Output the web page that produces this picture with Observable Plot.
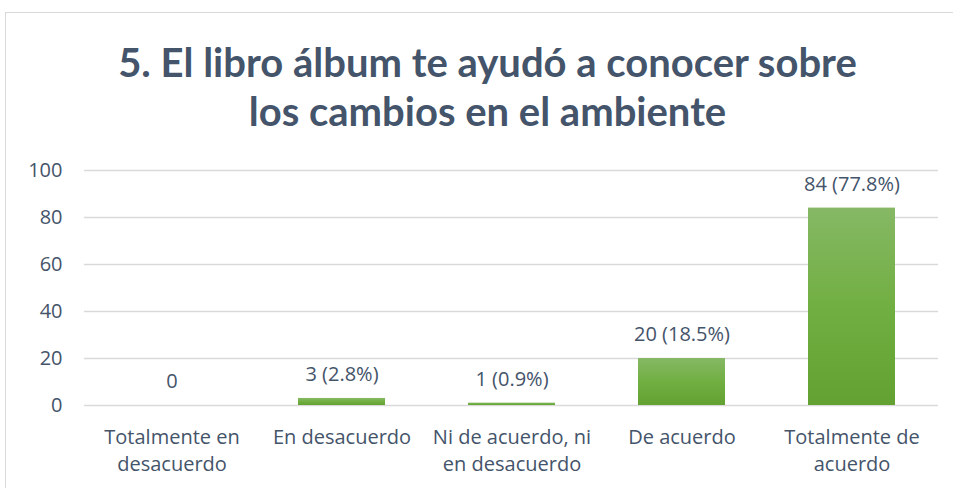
<!DOCTYPE html>
<html>
<head>
<meta charset="utf-8">
<script src="https://cdn.jsdelivr.net/npm/d3@7"></script>
<script src="https://cdn.jsdelivr.net/npm/@observablehq/plot@0.6"></script>
<style>
  body { margin: 0; background: #fff; width: 953px; height: 488px; overflow: hidden; position: relative; font-family: "Open Sans", sans-serif; }
  #frame { position: absolute; left: 5px; top: 12px; width: 980px; height: 500px; border: 1px solid #D9D9D9; box-sizing: border-box; }
  #title { position: absolute; left: 0; top: 38px; width: 975px; text-align: center; font-family: Lato, sans-serif; font-weight: bold; font-size: 40px; line-height: 49px; color: #44546A; }
  #chart { position: absolute; left: 0; top: 150px; }
</style>
</head>
<body>
<div id="frame"></div>
<div id="title">5. El libro álbum te ayudó a conocer sobre<br>los cambios en el ambiente</div>
<div id="chart"></div>
<script>
const categories = ["Totalmente en desacuerdo", "En desacuerdo", "Ni de acuerdo, ni en desacuerdo", "De acuerdo", "Totalmente de acuerdo"];
const tickLabels = ["Totalmente en\ndesacuerdo", "En desacuerdo", "Ni de acuerdo, ni\nen desacuerdo", "De acuerdo", "Totalmente de\nacuerdo"];
const counts = [0, 3, 1, 20, 84];
const valueLabels = ["0", "3 (2.8%)", "1 (0.9%)", "20 (18.5%)", "84 (77.8%)"];
const yTicks = [0, 20, 40, 60, 80, 100];

const data = categories.map((c, i) => ({cat: c, value: counts[i], label: valueLabels[i], tick: tickLabels[i]}));
const textColor = "#44546A";

const plot = Plot.plot({
  width: 953,
  height: 338,
  marginTop: 20,
  marginBottom: 83,
  marginLeft: 84,
  marginRight: 15,
  style: {fontFamily: "'Open Sans', sans-serif", fontSize: "20px", color: textColor, background: "transparent"},
  x: {domain: categories, paddingInner: 0.49, paddingOuter: 0.245, axis: null},
  y: {domain: [0, 100], ticks: yTicks, axis: null},
  marks: [
    Plot.ruleY(yTicks, {stroke: "#D9D9D9", strokeWidth: 1.3}),
    Plot.barY(data, {x: "cat", y: "value", fill: "url(#barGrad)"}),
    Plot.text(data, {x: "cat", y: "value", text: "label", dy: -24, fontSize: 20, fill: textColor}),
    Plot.text(data, {x: "cat", y: 0, text: "tick", dy: 19, lineAnchor: "top", lineHeight: 1.35, fontSize: 20, fill: textColor}),
    Plot.text(yTicks, {x: null, y: d => d, text: d => String(d), frameAnchor: "left", dx: -22, textAnchor: "end", fontSize: 20, fill: textColor})
  ]
});

const ns = "http://www.w3.org/2000/svg";
const defs = document.createElementNS(ns, "defs");
defs.innerHTML = '<linearGradient id="barGrad" x1="0" y1="0" x2="0" y2="1"><stop offset="0" stop-color="#86B865"/><stop offset="0.5" stop-color="#71AF42"/><stop offset="1" stop-color="#63A132"/></linearGradient>';
plot.insertBefore(defs, plot.firstChild);
document.getElementById("chart").appendChild(plot);
</script>
</body>
</html>
